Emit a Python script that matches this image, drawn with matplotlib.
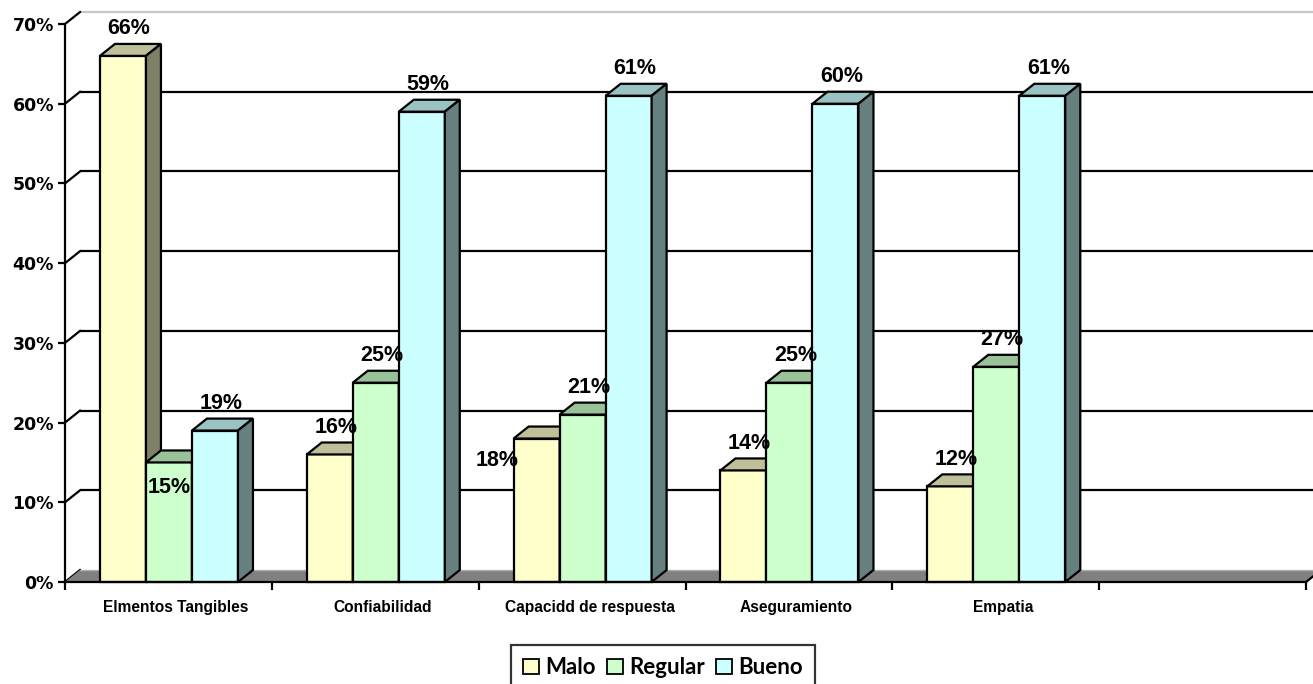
import matplotlib
matplotlib.use("Agg")
import matplotlib.pyplot as plt
from matplotlib.patches import Polygon, Patch

# ---- data -------------------------------------------------------------
categories = ["Elmentos Tangibles", "Confiabilidad", "Capacidd de respuesta",
              "Aseguramiento", "Empatia"]
series_names = ["Malo", "Regular", "Bueno"]
malo = [66, 16, 18, 14, 12]
regular = [15, 25, 21, 25, 27]
bueno = [19, 59, 61, 60, 61]
y_ticks = [0, 10, 20, 30, 40, 50, 60, 70]

# ---- styling ------------------------------------------------------------
front_colors = ["#FFFFCC", "#CCFFCC", "#CCFFFF"]
top_colors = ["#BFBF99", "#99C299", "#99C2C2"]
side_colors = ["#808066", "#668066", "#668080"]

n_slots = 6            # one empty slot is kept on the right of the axis
bar_w = 0.2224         # width of one bar in category units
first_off = 0.169      # gap between slot start and first bar
DX = 0.0725            # depth offset (x, category units)
DY = 1.5               # depth offset (y, percent units)
LW = 1.6

W_PX, H_PX = 1313, 684
fig = plt.figure(figsize=(W_PX / 100, H_PX / 100), dpi=100)
ax = fig.add_axes([65 / W_PX, (H_PX - 582) / H_PX,
                   (1306 - 65) / W_PX, (582 - 24) / H_PX])
ax.set_xlim(0, n_slots)
ax.set_ylim(0, 70)

# back wall grid + left wall connectors
for v in y_ticks:
    col = "#C8C8C8" if v == y_ticks[-1] else "black"
    if v > 0:
        ax.plot([DX, n_slots + DX + 0.2], [v + DY, v + DY], color=col,
                lw=LW, clip_on=False, zorder=1, solid_capstyle="butt")
    ax.plot([0, DX], [v, v + DY], color="black", lw=LW,
            clip_on=False, zorder=1)

# floor
floor = Polygon([(0, 0), (n_slots, 0), (n_slots + DX, DY), (DX, DY)],
                closed=True, facecolor="#808080", edgecolor="none",
                clip_on=False, zorder=2)
ax.add_patch(floor)
ax.plot([DX, n_slots + DX + 0.2], [DY, DY], color="#B0B0B0", lw=1.0,
        clip_on=False, zorder=2)
ax.plot([n_slots, n_slots + DX], [0, DY], color="black", lw=LW,
        clip_on=False, zorder=2)

# bars drawn as prisms, left to right so nearer faces cover farther ones
series = [malo, regular, bueno]
z = 3
for i in range(len(categories)):
    for k, vals in enumerate(series):
        v = vals[i]
        x0 = i + first_off + k * bar_w
        x1 = x0 + bar_w
        ax.bar(x0, v, width=bar_w, align="edge", color=front_colors[k],
               edgecolor="black", linewidth=LW, zorder=z, clip_on=False)
        top = Polygon([(x0, v), (x1, v), (x1 + DX, v + DY), (x0 + DX, v + DY)],
                      closed=True, facecolor=top_colors[k], edgecolor="black",
                      lw=LW, zorder=z + 0.1, clip_on=False)
        side = Polygon([(x1, 0), (x1 + DX, DY), (x1 + DX, v + DY), (x1, v)],
                       closed=True, facecolor=side_colors[k], edgecolor="black",
                       lw=LW, zorder=z + 0.2, clip_on=False)
        ax.add_patch(top)
        ax.add_patch(side)
        z += 1

# value labels
label_font = dict(family="Liberation Sans", weight="bold", fontsize=15.5,
                  color="black", ha="center", va="center", zorder=100)
for i in range(len(categories)):
    for k, vals in enumerate(series):
        v = vals[i]
        x0 = i + first_off + k * bar_w
        xc = x0 + 0.5 * bar_w + DX * 0.4
        yc = v + 3.4
        if (i, k) == (0, 1):          # label sits inside the short bar
            yc = v - 3.1
            xc = x0 + 0.5 * bar_w
        elif (i, k) == (2, 0):        # label sits beside the bar
            yc = v - 2.8
            xc = x0 - 0.082
        ax.text(xc, yc, f"{v}%", **label_font)

# axes lines
for s in ["top", "right"]:
    ax.spines[s].set_visible(False)
ax.spines["left"].set_linewidth(LW)
ax.spines["bottom"].set_linewidth(LW)
ax.spines["left"].set_zorder(200)
ax.spines["bottom"].set_zorder(200)

ax.set_yticks(y_ticks)
ax.set_yticklabels([f"{t}%" for t in y_ticks], family="DejaVu Sans",
                   weight="bold", fontsize=12.5)
ax.tick_params(axis="y", length=5, width=LW, pad=3)

ax.set_xticks(range(n_slots + 1))
ax.set_xticklabels([])
ax.tick_params(axis="x", which="major", length=6, width=LW)
ax.set_xticks([i + 0.5 + DX / 2 for i in range(len(categories))], minor=True)
ax.set_xticklabels(categories, minor=True, family="Liberation Sans",
                   weight="bold", fontsize=11.2)
ax.tick_params(axis="x", which="minor", length=0, pad=13)

# legend
handles = [Patch(facecolor=front_colors[k], edgecolor="black", lw=1.3,
                 label=series_names[k]) for k in range(3)]
leg = fig.legend(handles=handles, loc="upper center", ncol=3,
                 bbox_to_anchor=(663 / W_PX, (H_PX - 645) / H_PX),
                 frameon=True, fancybox=False, edgecolor="black",
                 prop=dict(family="Lato", weight="bold", size=16),
                 handlelength=0.7, handleheight=0.7, handletextpad=0.3,
                 columnspacing=0.5, borderpad=0.55, borderaxespad=0)
leg.get_frame().set_linewidth(1.6)

fig.savefig("out.png", dpi=100)
